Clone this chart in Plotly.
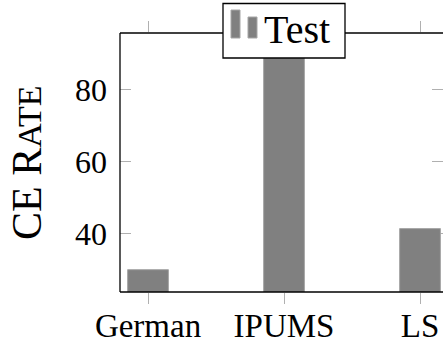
import plotly.graph_objects as go

# Data
categories = ["German", "IPUMS", "LS"]
ce_rate = [30.0, 97.0, 41.4]
y_ticks = [40, 60, 80]
series_name = "Test"

W, H = 443, 343
L, R, T, B = 120, 0, 33, 51
PW, PH = W - L - R, H - T - B

BAR_FILL = "#808080"
BAR_EDGE = "#a6a6a6"
TICK_COL = "#b0b0b0"
FONT = "Times New Roman, Liberation Serif, DejaVu Serif, serif"


def px_x(p):
    return (p - L) / PW


def px_y(p):
    return (H - B - p) / PH


fig = go.Figure(
    go.Bar(
        x=categories,
        y=ce_rate,
        width=0.30,
        marker=dict(color=BAR_FILL, line=dict(color=BAR_EDGE, width=1)),
        name=series_name,
        showlegend=False,
    )
)

fig.update_layout(
    width=W,
    height=H,
    margin=dict(l=L, r=R, t=T, b=B, pad=0, autoexpand=False),
    plot_bgcolor="white",
    paper_bgcolor="white",
    font=dict(family=FONT, color="black", size=32),
    showlegend=False,
)

fig.update_xaxes(
    type="category",
    range=[-0.206, 2.169],
    automargin=False,
    showline=False,
    showgrid=False,
    zeroline=False,
    ticks="outside",
    ticklen=11,
    tickwidth=1,
    tickcolor=TICK_COL,
    mirror="ticks",
    ticklabelstandoff=-7,
    tickfont=dict(size=33, family=FONT),
)

fig.update_yaxes(
    range=[23.8, 95.7],
    tickvals=y_ticks,
    automargin=False,
    showline=False,
    showgrid=False,
    zeroline=False,
    ticks="inside",
    ticklen=11,
    tickwidth=1,
    tickcolor=TICK_COL,
    mirror="ticks",
    layer="below traces",
    ticklabelstandoff=12,
    tickfont=dict(size=32, family=FONT),
)

shapes = []
# axis frame: left, bottom, top
for x0, y0, x1, y1 in [(0, 0, 0, 1), (0, 0, 1, 0), (0, 1, 1, 1)]:
    shapes.append(dict(type="line", xref="paper", yref="paper",
                       x0=x0, y0=y0, x1=x1, y1=y1,
                       line=dict(color="black", width=1.3)))

# legend box
shapes.append(dict(type="rect", xref="paper", yref="paper",
                   x0=px_x(223), x1=px_x(345), y0=px_y(58), y1=px_y(3.5),
                   fillcolor="white", line=dict(color="black", width=1.3)))
# legend bar icon
for x0, x1, top in [(231, 240, 10), (248, 257, 17)]:
    shapes.append(dict(type="rect", xref="paper", yref="paper",
                       x0=px_x(x0), x1=px_x(x1), y0=px_y(38), y1=px_y(top),
                       fillcolor=BAR_FILL, line=dict(color=BAR_EDGE, width=1)))

fig.update_layout(shapes=shapes)

fig.add_annotation(
    text=series_name, xref="paper", yref="paper",
    x=px_x(262), y=px_y(29), xanchor="left", yanchor="middle",
    showarrow=False, font=dict(size=40, family=FONT),
)

fig.add_annotation(
    text="CE R<span style='font-size:34px'>ATE</span>",
    xref="paper", yref="paper",
    x=px_x(27), y=px_y(163), xanchor="center", yanchor="middle",
    textangle=-90, showarrow=False, font=dict(size=42, family=FONT),
)

fig.write_html("out.html")
